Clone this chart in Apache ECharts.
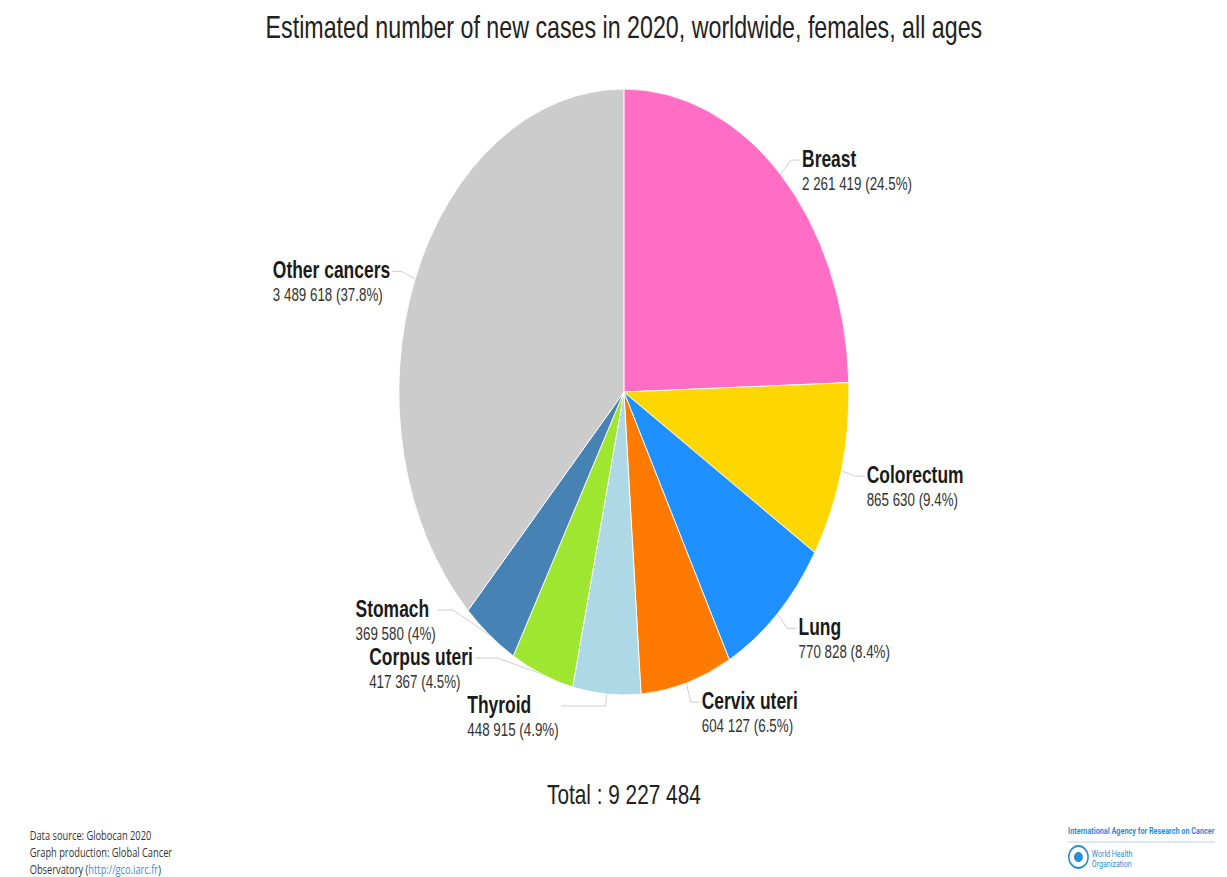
<!DOCTYPE html>
<html>
<head>
<meta charset="utf-8">
<script src="https://cdn.jsdelivr.net/npm/echarts@6/dist/echarts.min.js"></script>
<style>
  html, body { margin: 0; padding: 0; background: #fff; overflow: hidden; width: 1227px; height: 877px; }
  #chart { width: 1680px; height: 877px; transform: scaleX(0.742736); transform-origin: 0 0; }
</style>
</head>
<body>
<div id="chart"></div>
<script>
// ---- data ----
const categories = ['Breast', 'Colorectum', 'Lung', 'Cervix uteri', 'Thyroid', 'Corpus uteri', 'Stomach', 'Other cancers'];
const cases = [2261419, 865630, 770828, 604127, 448915, 417367, 369580, 3489618];
const palette = ['#ff6ec4', '#ffd700', '#1e90ff', '#ff7a00', '#add8e6', '#9ee62f', '#4682b4', '#cccccc'];
const titleText = 'Estimated number of new cases in 2020, worldwide, females, all ages';
const sourceLines = ['Data source: Globocan 2020', 'Graph production: Global Cancer', 'Observatory ('];
const sourceLink = 'http://gco.iarc.fr';

// label connector tweaks (style only)
const connectorLen2 = { 'Thyroid': 60, 'Corpus uteri': 30, 'Stomach': 20 };

const total = cases.reduce((a, b) => a + b, 0);
const fmt = v => String(v).replace(/\B(?=(\d{3})+(?!\d))/g, ' ');
const pct = v => String(Number((v / total * 100).toFixed(1)));

const chart = echarts.init(document.getElementById('chart'), null, { renderer: 'svg' });
const FONT = 'Liberation Sans';

chart.setOption({
  animation: false,
  color: palette,
  textStyle: { fontFamily: FONT },
  title: [
    { text: titleText, left: 'center', top: 12, padding: 0,
      textStyle: { fontFamily: FONT, fontSize: 31.3, fontWeight: 'normal', color: '#222' } },
    { text: 'Total : ' + fmt(total), left: 'center', top: 780, padding: 0,
      textStyle: { fontFamily: FONT, fontSize: 28, fontWeight: 'normal', color: '#222' } }
  ],
  series: [{
    type: 'pie',
    top: 0,
    left: 0,
    bottom: 148,
    center: [840, 392],
    radius: 303,
    startAngle: 90,
    clockwise: true,
    data: categories.map((n, i) => {
      const d = { name: n, value: cases[i] };
      if (connectorLen2[n] != null) d.labelLine = { length2: connectorLen2[n] };
      return d;
    }),
    itemStyle: { borderColor: '#fff', borderWidth: 1 },
    label: {
      show: true,
      position: 'outside',
      distanceToLabelLine: 3,
      formatter: p => '{n|' + p.name + '}\n{v|' + fmt(p.value) + ' (' + pct(p.value) + '%)}',
      rich: {
        n: { fontFamily: FONT, fontSize: 23.5, fontWeight: 'bold', color: '#1a1a1a', lineHeight: 26 },
        v: { fontFamily: FONT, fontSize: 18, color: '#333', lineHeight: 24 }
      }
    },
    labelLine: { show: true, length: 20, length2: 12, lineStyle: { color: '#c8c8c8', width: 1 } },
    labelLayout: function (p) {
      const r = p.labelRect;
      const out = { y: r.y + r.height * 0.75, labelLinePoints: p.labelLinePoints };
      if (p.align === 'right') { out.x = r.x; out.align = 'left'; }
      return out;
    },
    emphasis: { disabled: true }
  }],
  graphic: [
    { type: 'text', left: 40, top: 826,
      style: {
        text: sourceLines[0] + '\n' + sourceLines[1] + '\n' + sourceLines[2] + '{l|' + sourceLink + '}{d|)}',
        fontFamily: 'Open Sans', fontSize: 12.5, lineHeight: 17, fill: '#333',
        rich: {
          l: { fontFamily: 'Open Sans', fontSize: 12.5, lineHeight: 17, fill: '#3d8fd6' },
          d: { fontFamily: 'Open Sans', fontSize: 12.5, lineHeight: 17, fill: '#333' }
        }
      } },
    { type: 'text', left: 1438, top: 826,
      style: { text: 'International Agency for Research on Cancer', fontFamily: 'Roboto', fontSize: 9.8,
        fontWeight: 'bold', fill: '#2b8ed6' } },
    { type: 'line', shape: { x1: 1438, y1: 842, x2: 1636, y2: 842 }, style: { stroke: '#a9cbe6', lineWidth: 1 } },
    { type: 'ellipse', shape: { cx: 1452, cy: 857, rx: 13, ry: 11 }, style: { fill: '#fff', stroke: '#2b8ed6', lineWidth: 2 } },
    { type: 'ellipse', shape: { cx: 1452, cy: 857, rx: 6, ry: 5 }, style: { fill: '#2b8ed6' } },
    { type: 'text', left: 1470, top: 849,
      style: { text: 'World Health\nOrganization', fontFamily: 'Roboto', fontSize: 9.5, lineHeight: 10, fill: '#2b8ed6' } }
  ]
});
</script>
</body>
</html>
